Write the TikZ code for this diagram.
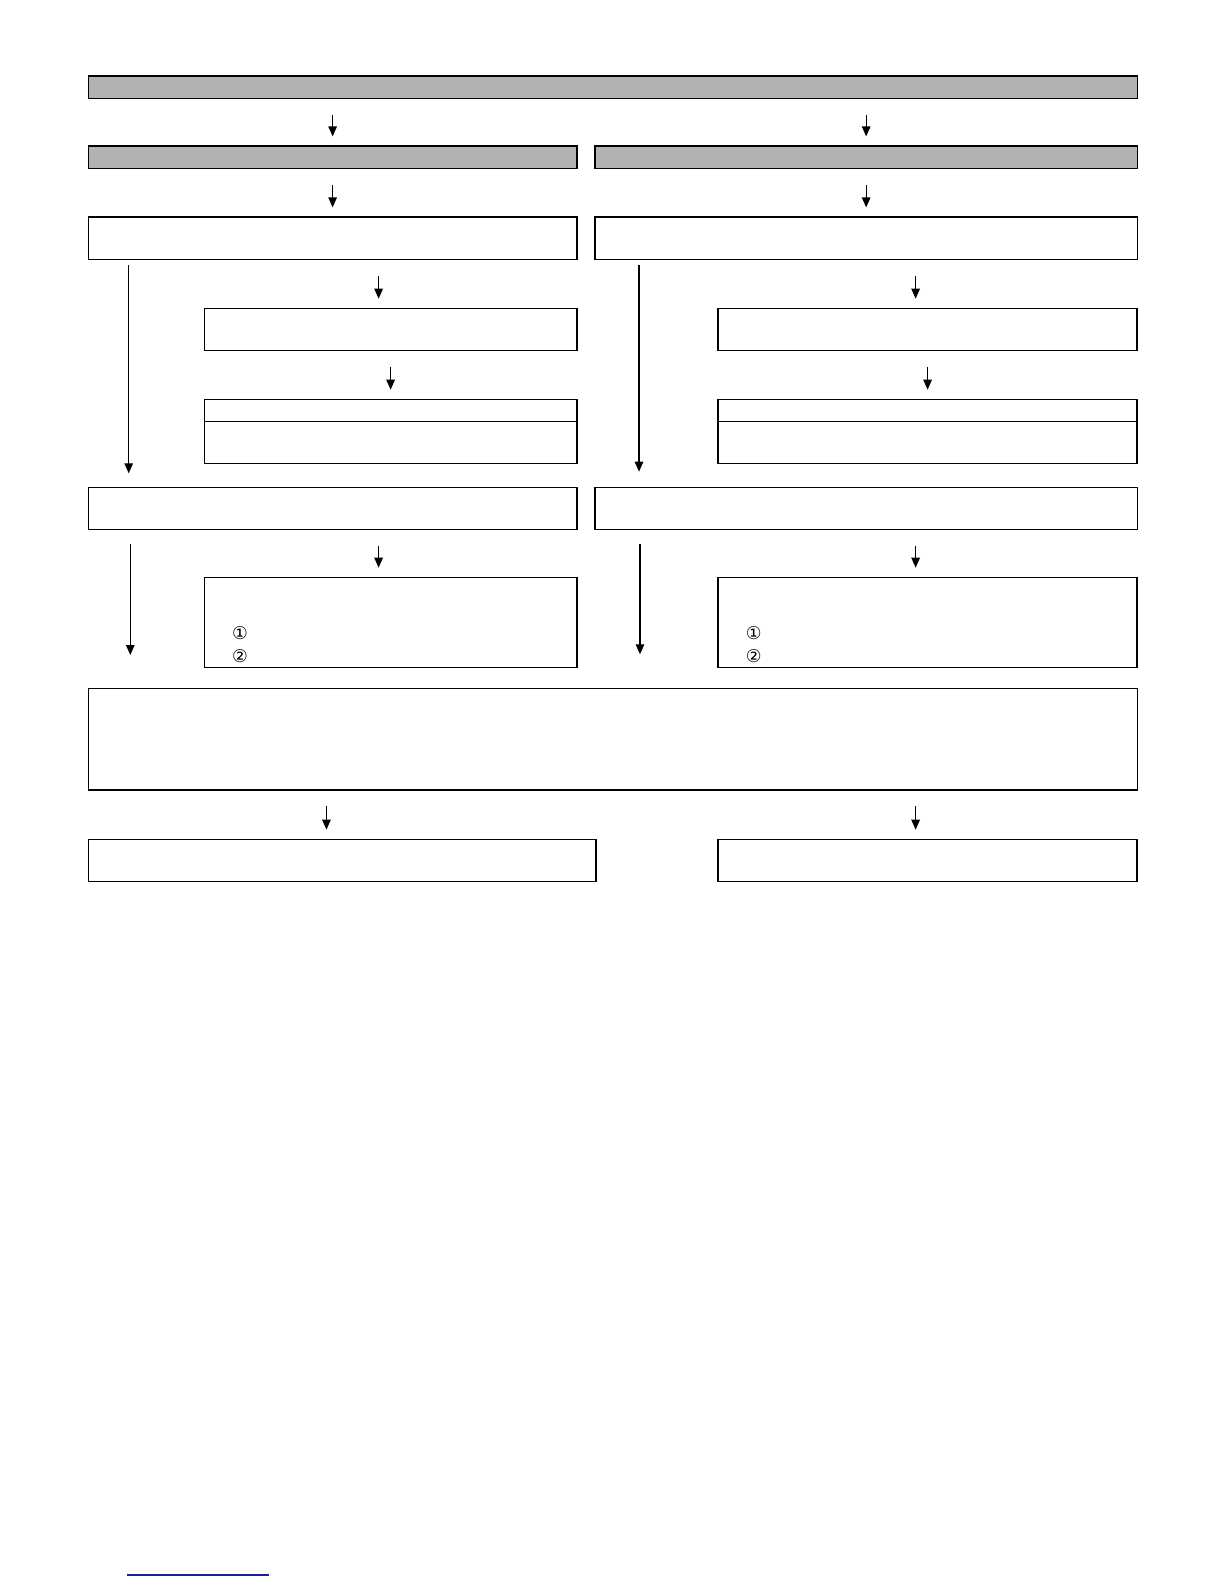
\documentclass[tikz,border=0pt]{standalone}
\usepackage{fontspec}
\newfontfamily\circfont{DejaVu Sans}
\usetikzlibrary{calc}
\usetikzlibrary{arrows.meta}
\definecolor{linkblue}{RGB}{30,30,150}
\tikzset{
  box/.style={draw, line width=0.45pt, inner sep=0pt, outer sep=0pt, anchor=north west},
  bar/.style={box, fill=black!30},
  arr/.style={-{Triangle[width=0.85mm,length=1mm]}, line width=0.35pt},
  num/.style={font=\circfont\fontsize{5}{6}\selectfont, inner sep=0pt}
}

\begin{document}
\begin{tikzpicture}[x=0.01cm,y=-0.01cm]
\useasboundingbox (0,0) rectangle (1224,1584);

% gray bars
\node[bar, minimum width=104.87mm, minimum height=2.23mm] (top) at (88.3,76) {};
\node[bar, minimum width=48.84mm, minimum height=2.23mm] (barL) at (88.3,146) {};
\node[bar, minimum width=54.2mm, minimum height=2.23mm] (barR) at (595,146) {};

% left column
\node[box, minimum width=48.84mm, minimum height=4.23mm] (Al) at (88.3,217) {};
\node[box, minimum width=37.24mm, minimum height=4.2mm] (Bl) at (204.3,308.3) {};
\node[box, minimum width=37.24mm, minimum height=6.4mm] (Cl) at (204.3,399.3) {};
\node[box, minimum width=48.84mm, minimum height=4.2mm] (Dl) at (88.3,487.3) {};
\node[box, minimum width=37.24mm, minimum height=9mm] (El) at (204.3,577.3) {};

% right column
\node[box, minimum width=54.2mm, minimum height=4.23mm] (Ar) at (595,217) {};
\node[box, minimum width=41.9mm, minimum height=4.2mm] (Br) at (718,308.3) {};
\node[box, minimum width=41.9mm, minimum height=6.4mm] (Cr) at (718,399.3) {};
\node[box, minimum width=54.2mm, minimum height=4.2mm] (Dr) at (595,487.3) {};
\node[box, minimum width=41.9mm, minimum height=9mm] (Er) at (718,577.3) {};

% bottom
\node[box, minimum width=104.87mm, minimum height=10.17mm] (F) at (88.3,688.3) {};
\node[box, minimum width=50.74mm, minimum height=4.2mm] (Gl) at (88.3,839.3) {};
\node[box, minimum width=41.9mm, minimum height=4.2mm] (Gr) at (718,839.3) {};

\foreach \b in {Cl,Cr} \draw[line width=0.45pt] ($(\b.north west)+(0,22)$) -- ($(\b.north east)+(0,22)$);

\foreach \b in {El,Er} {
  \node[num] (\b-1) at ($(\b.north west)+(35.7,56)$) {①};
  \node[num] (\b-2) at ($(\b.north west)+(35.7,79)$) {②};
}

% short arrows
\foreach \s/\t/\dx in {top/barL/0, top/barR/0, barL/Al/0, barR/Ar/0, Al/Bl/-12, Ar/Br/-12, Bl/Cl/0, Br/Cr/0, Dl/El/-12, Dr/Er/-12, F/Gl/-15.7, F/Gr/-12}
  \draw[arr] ($(\t.north |- \s.south)+(\dx,16.2)$) -- ($(\t.north)+(\dx,-9.6)$);

% long arrows
\draw[arr] ($(Al.south west)+(40.4,5.7)$) -- ($(Dl.north west)+(40.4,-14)$);
\draw[arr] ($(Ar.south west)+(44,5.7)$) -- ($(Dr.north west)+(44,-15.6)$);
\draw[arr] ($(Dl.south west)+(42,14.7)$) -- ($(Dl.south west)+(42,125.7)$);
\draw[arr] ($(Dr.south west)+(45,14.7)$) -- ($(Dr.south west)+(45,125)$);

\draw[line width=0.35pt, linkblue] (126.7,1575) -- (269,1575);
\end{tikzpicture}
\end{document}
